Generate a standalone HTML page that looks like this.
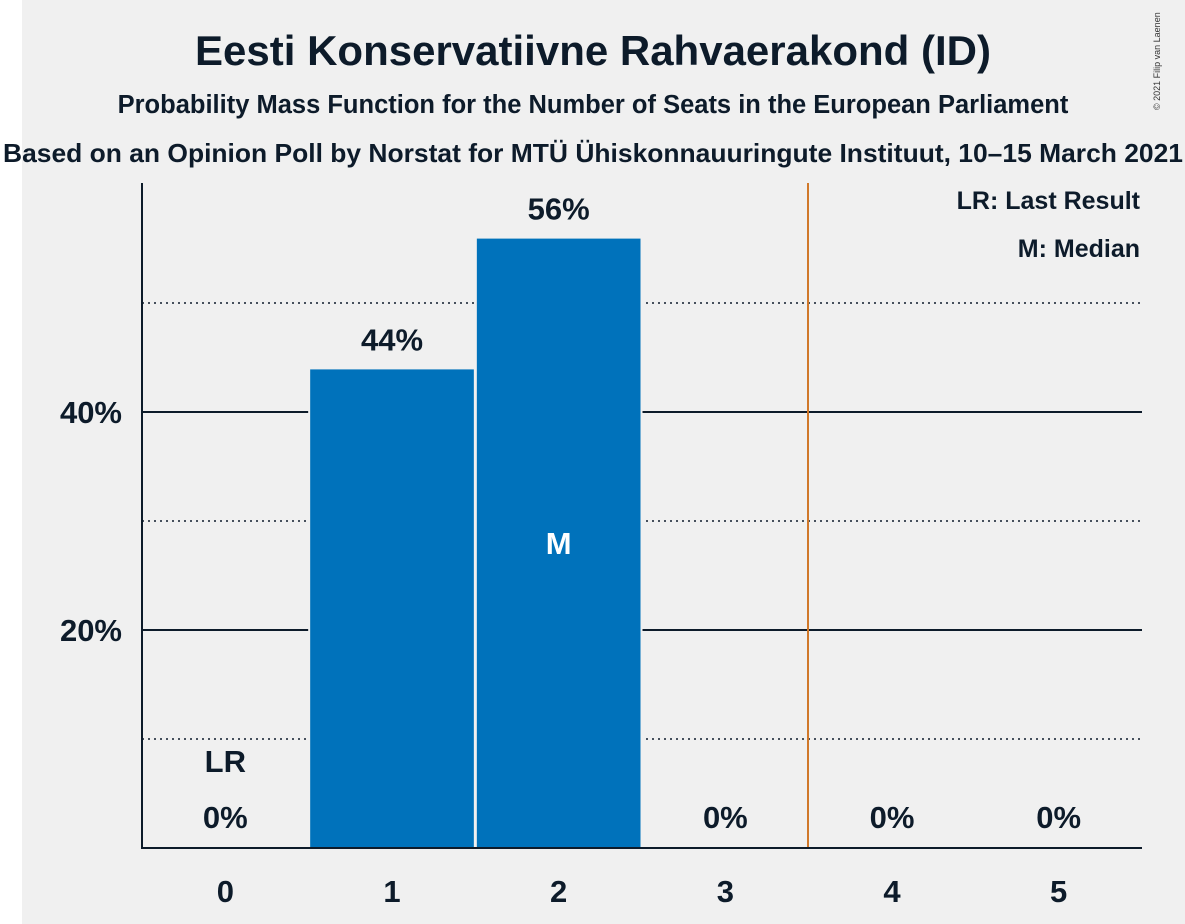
<!DOCTYPE html>
<html><head><meta charset="utf-8"><style>
body{margin:0;background:#fff}
svg{display:block;font-family:"Liberation Sans",sans-serif}
</style></head><body>
<svg width="1185" height="924">
<rect x="22" y="0" width="1163" height="924" fill="#f0f0f0"/>
<text x="593" y="65" text-anchor="middle" font-size="42" font-weight="bold" fill="#0d1b2a">Eesti Konservatiivne Rahvaerakond (ID)</text>
<text x="593" y="113" text-anchor="middle" font-size="25.5" font-weight="bold" fill="#0d1b2a">Probability Mass Function for the Number of Seats in the European Parliament</text>
<text x="593" y="162" text-anchor="middle" font-size="26" font-weight="bold" fill="#0d1b2a" textLength="1180" lengthAdjust="spacingAndGlyphs">Based on an Opinion Poll by Norstat for MTÜ Ühiskonnauuringute Instituut, 10–15 March 2021</text>
<text x="1160" y="110" font-size="9" fill="#333" transform="rotate(-90 1160 110)">© 2021 Filip van Laenen</text>
<g id="grid"></g>
<g id="bars"></g>
<line x1="808" y1="183" x2="808" y2="848" stroke="#d0782a" stroke-width="2"/>
<line x1="142" y1="183" x2="142" y2="849" stroke="#0d1b2a" stroke-width="2"/>
<line x1="141" y1="848" x2="1142" y2="848" stroke="#0d1b2a" stroke-width="2"/>
<g id="labels"></g>
<text x="1140" y="209" text-anchor="end" font-size="25" font-weight="bold" fill="#0d1b2a">LR: Last Result</text>
<text x="1140" y="257" text-anchor="end" font-size="25" font-weight="bold" fill="#0d1b2a">M: Median</text>
</svg>
<script>
const seats=[0,1,2,3,4,5];
const probs=[0,44,56,0,0,0];
const probLabels=["0%","44%","56%","0%","0%","0%"];
const yTicks=[20,40];
const yMinor=[10,30,50];
const medianSeat=2;
const lastResultSeat=0;
const NS="http://www.w3.org/2000/svg";
const x0=142,step=166.67,yBase=848,pxPer=10.9;
const X=s=>x0+step*(s+0.5);
const Y=v=>yBase-v*pxPer;
function mk(tag,attrs,parent,text){const e=document.createElementNS(NS,tag);for(const k in attrs)e.setAttribute(k,attrs[k]);if(text!==undefined)e.textContent=text;document.getElementById(parent).appendChild(e);return e;}
yMinor.forEach(v=>{const l=mk('line',{x1:142,x2:1142,y1:Y(v),y2:Y(v),stroke:'#0d1b2a','stroke-width':1.5,'stroke-dasharray':'2 4'},'grid');

});
yTicks.forEach(v=>{const l=mk('line',{x1:142,x2:1142,y1:Y(v),y2:Y(v),stroke:'#0d1b2a','stroke-width':2},'grid');


const t=mk('text',{x:122,y:Y(v)+11,'text-anchor':'end','font-size':31,'font-weight':'bold',fill:'#0d1b2a'},'labels',v+'%');

});
seats.forEach((s,i)=>{
 if(probs[i]>0){const r=mk('rect',{x:X(s)-step/2+0.5,y:Y(probs[i]),width:step-1,height:yBase-Y(probs[i]),fill:'#0072bb',stroke:'#f0f0f0','stroke-width':2},'bars');
 
 }
 const ly=probs[i]>0?Y(probs[i])-18:yBase-20;
 const t=mk('text',{x:X(s),y:ly,'text-anchor':'middle','font-size':31,'font-weight':'bold',fill:'#0d1b2a'},'labels',probLabels[i]);
 
 
 const xt=mk('text',{x:X(s),y:902,'text-anchor':'middle','font-size':31,'font-weight':'bold',fill:'#0d1b2a'},'labels',String(s));
 
 
});
const m=mk('text',{x:X(medianSeat),y:(Y(probs[medianSeat])+yBase)/2+11,'text-anchor':'middle','font-size':31,'font-weight':'bold',fill:'#fff'},'labels','M');


const lr=mk('text',{x:X(lastResultSeat),y:yBase-76,'text-anchor':'middle','font-size':31,'font-weight':'bold',fill:'#0d1b2a'},'labels','LR');


</script>
</body></html>
